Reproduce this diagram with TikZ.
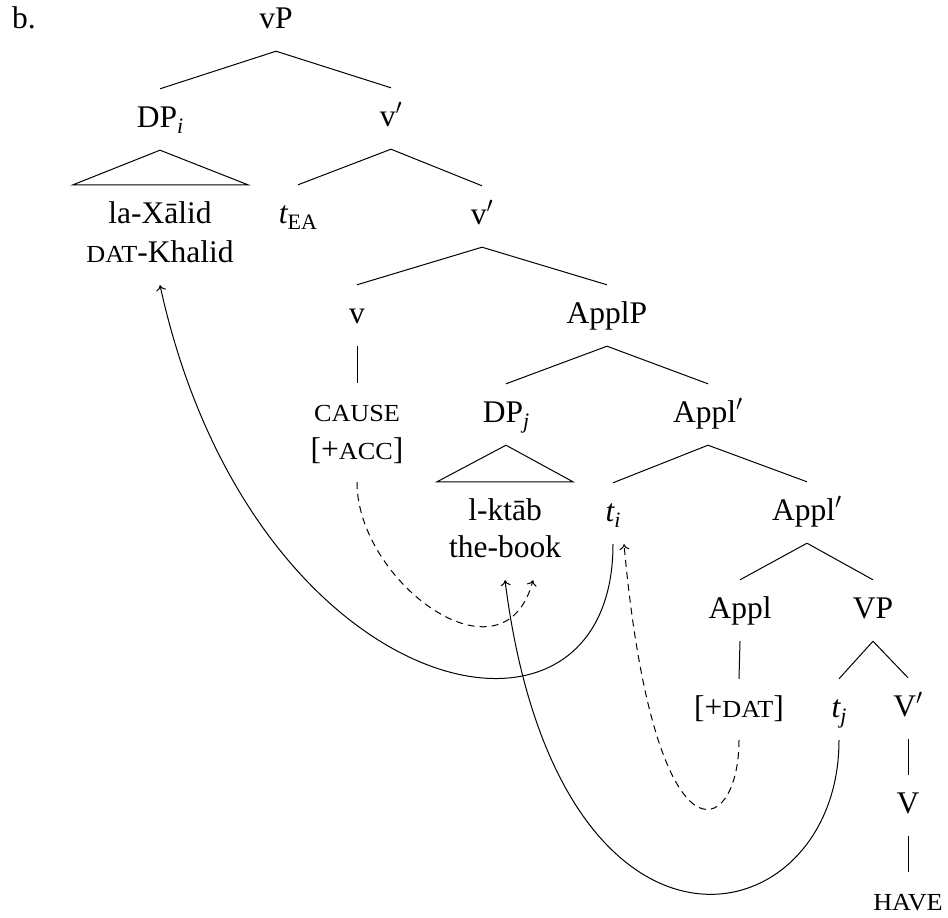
\documentclass[tikz,border=0pt]{standalone}
\usepackage{fix-cm}
\usepackage{fontspec}
\setmainfont{Liberation Serif}
\newfontfamily\scfont[FakeStretch=1.07]{Liberation Serif}
\usetikzlibrary{arrows.meta,calc}

% small capitals, lowered subscripts and the bar-level prime
\newcommand{\smc}[1]{{\scfont\fontsize{24.5}{28}\selectfont #1}}
\newcommand{\sbs}[1]{\raisebox{-6pt}{\fontsize{22}{24}\selectfont #1}}
\newcommand{\pr}{\ensuremath{^{\prime}}}

\tikzset{
  lbl/.style={anchor=base, font=\fontsize{31.5}{38}\selectfont,
    text height=22pt, text depth=7pt, inner ysep=16pt, inner xsep=2pt},
  branch/.style={line width=1pt},
  mvsolid/.style={line width=1pt, -{To[length=5.5pt,width=10pt]}},
  mvdash/.style={line width=1pt, dash pattern=on 7pt off 5pt,
    -{To[length=5.5pt,width=10pt]}}
}

\begin{document}
\begin{tikzpicture}[x=1pt,y=-1pt]
\useasboundingbox (0,0) rectangle (948,918);

% example label
\node[lbl, anchor=base west] (ex) at (10,28) {b.};

% tree nodes (placed by baseline)
\node[lbl] (vP)    at (276,28)  {vP};
\node[lbl] (dpi)   at (160,127) {DP\sbs{\itshape i}};
\node[lbl] (vb1)   at (391,126) {v\pr};
\node[lbl] (lax)   at (160,223) {la-Xālid};
\node[lbl] (khal)  at (160,262) {\smc{DAT}-Khalid};
\node[lbl] (tea)   at (298,223) {{\itshape t}\sbs{EA}};
\node[lbl] (vb2)   at (482,224) {v\pr};
\node[lbl] (vv)    at (357,323) {v};
\node[lbl] (applp) at (607,323) {ApplP};
\node[lbl] (cause) at (357,421) {\smc{CAUSE}};
\node[lbl] (acc)   at (357,459) {[+\smc{ACC}]};
\node[lbl] (dpj)   at (506,422) {DP\sbs{\itshape j}};
\node[lbl] (ab1)   at (708,422) {Appl\pr};
\node[lbl] (ktab)  at (505,520) {l-ktāb};
\node[lbl] (book)  at (505,557) {the-book};
\node[lbl] (ti)    at (613,521) {{\itshape t}\sbs{\itshape i}};
\node[lbl] (ab2)   at (807,520) {Appl\pr};
\node[lbl] (appl)  at (740,618) {Appl};
\node[lbl] (vp)    at (873,618) {VP};
\node[lbl] (dat)   at (739,717) {[+\smc{DAT}]};
\node[lbl] (tj)    at (839,717) {{\itshape t}\sbs{\itshape j}};
\node[lbl] (vbar)  at (908,716) {V\pr};
\node[lbl] (vhead) at (908,813) {V};
\node[lbl] (have)  at (908,910) {\smc{HAVE}};

% branches
\draw[branch] (vP.south) -- (dpi.north);
\draw[branch] (vP.south) -- (vb1.north);
\draw[branch] (vb1.south) -- (tea.north);
\draw[branch] (vb1.south) -- (vb2.north);
\draw[branch] (vb2.south) -- (vv.north);
\draw[branch] (vb2.south) -- (applp.north);
\draw[branch] (vv.south) -- (cause.north);
\draw[branch] (applp.south) -- (dpj.north);
\draw[branch] (applp.south) -- (ab1.north);
\draw[branch] (ab1.south) -- (ti.north);
\draw[branch] (ab1.south) -- (ab2.north);
\draw[branch] (ab2.south) -- (appl.north);
\draw[branch] (ab2.south) -- (vp.north);
\draw[branch] (appl.south) -- (dat.north);
\draw[branch] (vp.south) -- (tj.north);
\draw[branch] (vp.south) -- (vbar.north);
\draw[branch] (vbar.south) -- (vhead.north);
\draw[branch] (vhead.south) -- (have.north);

% roof triangles
\draw[branch] (dpi.south) -- ($(lax.north)+(-87,0)$) -- ($(lax.north)+(88,0)$) -- cycle;
\draw[branch] (dpj.south) -- ($(ktab.north)+(-68,0)$) -- ($(ktab.north)+(68,0)$) -- cycle;

% movement and case arrows
\coordinate (bookR) at ($(book.south)+(28,0)$);
\coordinate (tiR)   at ($(ti.south)+(11,0)$);
\draw[mvsolid] (ti.south) .. controls +(0,240) and +(92,420) .. (khal.south);
\draw[mvsolid] (tj.south) .. controls +(0,200) and +(53,420) .. (book.south);
\draw[mvdash]  (acc.south) .. controls +(0,100) and +(-29,110) .. (bookR);
\draw[mvdash]  (dat.south) .. controls +(0,100) and +(30,330) .. (tiR);
\end{tikzpicture}
\end{document}
